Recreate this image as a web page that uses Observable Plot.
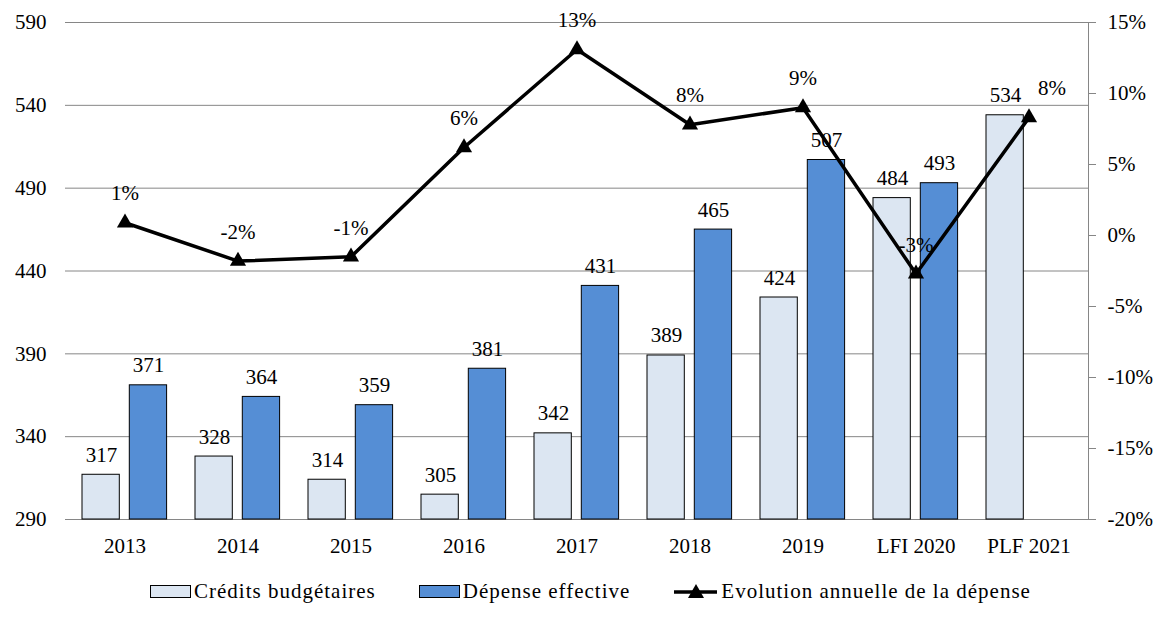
<!DOCTYPE html>
<html>
<head>
<meta charset="utf-8">
<script src="https://cdn.jsdelivr.net/npm/d3@7"></script>
<script src="https://cdn.jsdelivr.net/npm/@observablehq/plot@0.6"></script>
<style>
  body { margin: 0; background: #fff; font-family: "Liberation Serif", "DejaVu Serif", "Times New Roman", serif; }
  #legend { display: flex; align-items: center; padding-left: 150px; height: 52px; font-size: 21px; letter-spacing: 1px; color: #000; }
  .item { display: flex; align-items: center; margin-right: 43px; }
  .sw { width: 41px; height: 13px; border: 1px solid #000; box-sizing: border-box; margin-right: 3px; }
  svg text { font-family: "Liberation Serif", "DejaVu Serif", "Times New Roman", serif; }
</style>
</head>
<body>
<div id="chart"></div>
<div id="legend">
  <div class="item"><div class="sw" style="background:#DCE6F2"></div><span>Crédits budgétaires</span></div>
  <div class="item"><div class="sw" style="background:#558ED5"></div><span>Dépense effective</span></div>
  <div class="item"><svg width="46" height="16" style="margin-right:2px"><line x1="1" y1="9" x2="44" y2="9" stroke="#000" stroke-width="3.5"/><path d="M23,1 L31,15 L15,15 Z" fill="#000"/></svg><span>Evolution annuelle de la dépense</span></div>
</div>
<script>
const categories = ["2013", "2014", "2015", "2016", "2017", "2018", "2019", "LFI 2020", "PLF 2021"];
const credits = [317, 328, 314, 305, 342, 389, 424, 484, 534];
const depense = [371, 364, 359, 381, 431, 465, 507, 493, null];
const evolution = [0.9, -1.8, -1.5, 6.2, 13.1, 7.8, 9.0, -2.7, 8.3];
const evolutionLabels = ["1%", "-2%", "-1%", "6%", "13%", "8%", "9%", "-3%", "8%"];
const leftTicks = [290, 340, 390, 440, 490, 540, 590];
const rightTicks = [-20, -15, -10, -5, 0, 5, 10, 15];

const yMin = leftTicks[0], yMax = leftTicks[leftTicks.length - 1];
const pMin = rightTicks[0], pMax = rightTicks[rightTicks.length - 1];
const toLeft = p => yMin + (p - pMin) * (yMax - yMin) / (pMax - pMin);
const fromLeft = v => pMin + (v - yMin) * (pMax - pMin) / (yMax - yMin);

const rows = categories.map((cat, i) => ({
  cat, credits: credits[i], depense: depense[i],
  evo: toLeft(evolution[i]), evoLabel: evolutionLabels[i]
}));
const last = rows.length - 1;
const FONT = '"Liberation Serif", "DejaVu Serif", "Times New Roman", serif';
const FS = 21;

const chart = Plot.plot({
  width: 1167,
  height: 565,
  marginTop: 22,
  marginBottom: 46,
  marginLeft: 65,
  marginRight: 79,
  style: { fontFamily: FONT, fontSize: FS + "px", color: "#000", background: "#fff" },
  x: { type: "band", domain: categories, paddingInner: 0, paddingOuter: 0, label: null },
  y: { domain: [yMin, yMax], label: null },
  marks: [
    Plot.gridY(leftTicks, { stroke: "#868686", strokeOpacity: 1 }),
    Plot.frame({ anchor: "right", stroke: "#868686" }),
    Plot.axisX({ tickSize: 0, tickPadding: 19, fontSize: FS }),
    Plot.axisY(leftTicks, { anchor: "left", tickSize: 0, tickPadding: 19, fontSize: FS }),
    Plot.axisY(rightTicks.map(toLeft), {
      anchor: "right", tickSize: 7, tickPadding: 12, stroke: "#868686", fill: "#000", fontSize: FS,
      tickFormat: v => Math.round(fromLeft(v)) + "%"
    }),
    Plot.barY(rows, { x: "cat", y1: () => yMin, y2: "credits", fill: "#DCE6F2", stroke: "#000", strokeWidth: 1, insetLeft: 14, insetRight: 61.7 }),
    Plot.barY(rows, { filter: d => d.depense != null, x: "cat", y1: () => yMin, y2: "depense", fill: "#558ED5", stroke: "#000", strokeWidth: 1, insetLeft: 61.3, insetRight: 14.4 }),
    Plot.text(rows, { x: "cat", y: "credits", text: d => String(d.credits), dx: -23.5, dy: -13, lineAnchor: "bottom", fontSize: FS, fill: "#000" }),
    Plot.text(rows, { filter: d => d.depense != null, x: "cat", y: "depense", text: d => String(d.depense), dx: 23.5, dy: -13, lineAnchor: "bottom", fontSize: FS, fill: "#000" }),
    Plot.line(rows, { x: "cat", y: "evo", stroke: "#000", strokeWidth: 3.5 }),
    Plot.dot(rows, { x: "cat", y: "evo", symbol: "triangle", r: 6, fill: "#000", stroke: "none" }),
    Plot.text(rows, { filter: (d, i) => i < last, x: "cat", y: "evo", text: "evoLabel", dy: -29, fontSize: FS, fill: "#000" }),
    Plot.text(rows, { filter: (d, i) => i === last, x: "cat", y: "evo", text: "evoLabel", dx: 23, dy: -29, fontSize: FS, fill: "#000" })
  ]
});
document.getElementById("chart").appendChild(chart);
</script>
</body>
</html>
